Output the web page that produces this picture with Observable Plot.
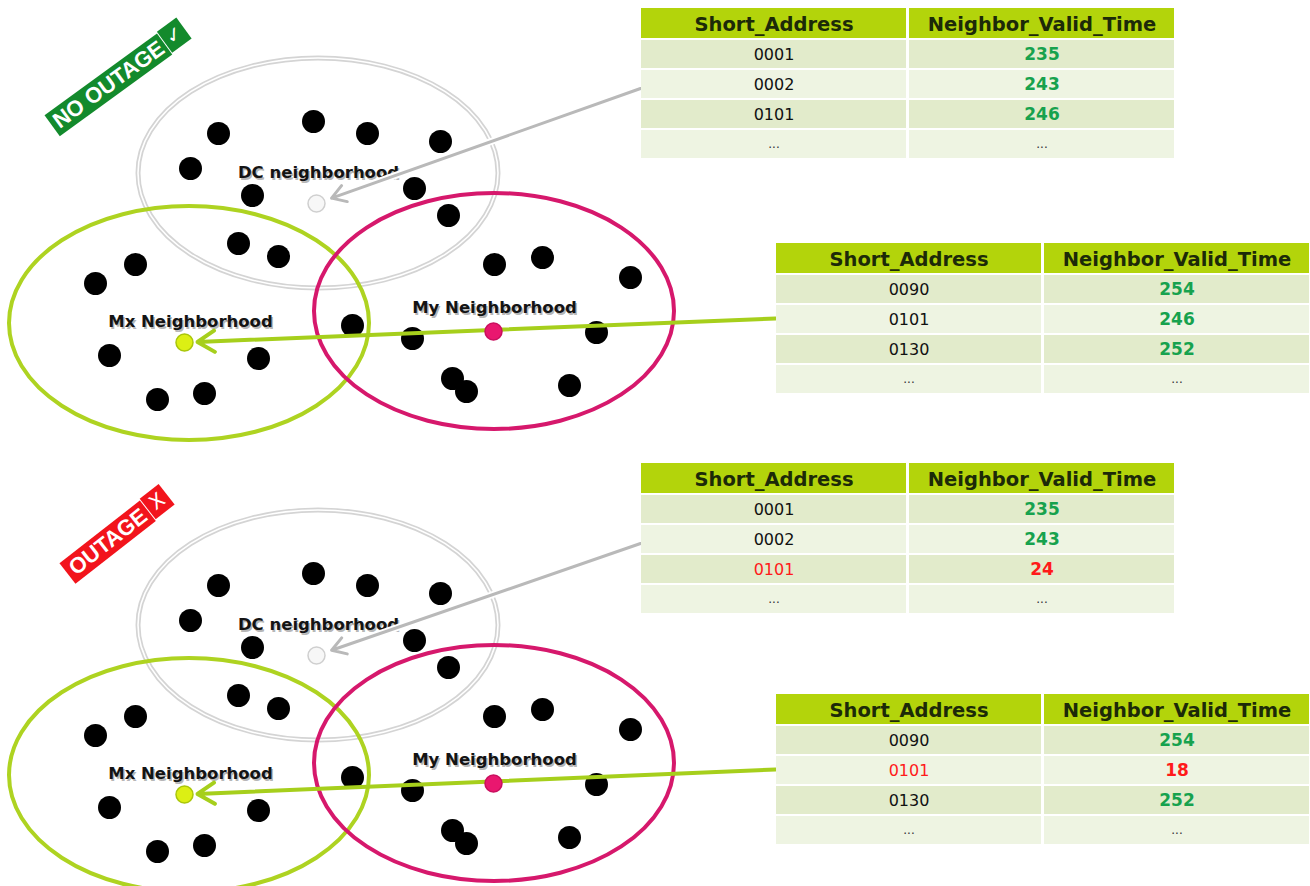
<!DOCTYPE html>
<html><head><meta charset="utf-8">
<script src="https://cdn.jsdelivr.net/npm/d3@7"></script>
<script src="https://cdn.jsdelivr.net/npm/@observablehq/plot@0.6"></script>
<style>
html,body{margin:0;padding:0;background:#fff;}
#chart svg{display:block;}
</style></head><body><div id="chart"></div>
<script>
// ================= DATA =================
const panelNames   = ["NO OUTAGE", "OUTAGE"];
const panelSymbols = ["✓", "X"];

const tableHeaders = ["Short_Address", "Neighbor_Valid_Time"];
const dcAddresses      = ["0001", "0002", "0101", "..."];
const dcTimesNoOutage  = ["235", "243", "246", "..."];
const dcTimesOutage    = ["235", "243", "24", "..."];
const myAddresses      = ["0090", "0101", "0130", "..."];
const myTimesNoOutage  = ["254", "246", "252", "..."];
const myTimesOutage    = ["254", "18", "252", "..."];
const lostAddress = "0101";

// meters (black dots)
const meterX = [218, 313, 367, 440, 190, 252, 414, 448, 238, 278, 135, 95, 494, 542, 630, 352, 412, 596, 109, 258, 157, 204, 452, 466, 569];
const meterY = [133, 121, 133, 141, 168, 195, 188, 215, 243, 256, 264, 283, 264, 257, 277, 325, 338, 332, 355, 358, 399, 393, 378, 391, 385];

// neighbourhoods
const hoodNames  = ["DC neighborhood", "Mx Neighborhood", "My Neighborhood"];
const hoodCX = [318, 189, 494];
const hoodCY = [173, 323, 311];
const hoodRX = [180, 180, 180];
const hoodRY = [115, 117, 118];
const nodeX  = [316, 184, 493];
const nodeY  = [203, 342, 331];
const labelX = [318, 190, 494];
const labelY = [172, 321, 307];

// ================= LAYOUT / STYLE =================
const W = 1310, H = 886;
const panelShift = [0, 452];
const GREEN_TXT = "#17a24e", RED_TXT = "#ff1a1a";
const HEAD_FILL = "#b3d40b", ROW_A = "#e2ebcb", ROW_B = "#eef4e2";
const hoodStroke = ["#d5d5d5", "#aed321", "#d6186c"];
const nodeFill   = ["#f7f7f7", "#dcef14", "#e9176f"];
const nodeStroke = ["#cfcfcf", "#a9c60a", "#c90f5e"];
const badgeFill  = ["#138a2c", "#f2141c"];
const badge = [
  {cx: 118, cy: 77, angle: -36, len: 164},
  {cx: 117, cy: 534, angle: -38, len: 127}
];
const TL = {colW: 265, gap: 3, headH: 30, rowTop: 32, rowPitch: 30, rowH: 28};
const tableDefs = [
  {x: 641, y: [8, 463], addr: dcAddresses, times: [dcTimesNoOutage, dcTimesOutage]},
  {x: 776, y: [243, 694], addr: myAddresses, times: [myTimesNoOutage, myTimesOutage]}
];

// ================= BUILD =================
const meters = [], hoods = [], nodes = [], labels = [];
const cells = [], cellText = [];
const badges = [], badgeText = [];
const arrows = [];
panelNames.forEach((pname, p) => {
  const dy = panelShift[p];
  meterX.forEach((x, i) => meters.push({x, y: meterY[i] + dy}));
  hoodNames.forEach((h, i) => {
    hoods.push({k: i, cx: hoodCX[i], cy: hoodCY[i] + dy, rx: hoodRX[i], ry: hoodRY[i]});
    nodes.push({k: i, x: nodeX[i], y: nodeY[i] + dy});
    labels.push({text: h, x: labelX[i], y: labelY[i] + dy});
  });
  tableDefs.forEach((t, ti) => {
    const top = t.y[p];
    const c1 = [t.x, t.x + TL.colW], c2 = [t.x + TL.colW + TL.gap, t.x + 2 * TL.colW + TL.gap];
    [c1, c2].forEach((c, ci) => {
      cells.push({x1: c[0], x2: c[1], y1: top, y2: top + TL.headH, fill: HEAD_FILL});
      cellText.push({kind: "head", text: tableHeaders[ci], x: (c[0] + c[1]) / 2, y: top + TL.headH / 2 + 1, color: "#1c2a08"});
    });
    t.addr.forEach((a, i) => {
      const y1 = top + TL.rowTop + i * TL.rowPitch, y2 = y1 + TL.rowH;
      const fill = i % 2 ? ROW_B : ROW_A;
      cells.push({x1: c1[0], x2: c1[1], y1, y2, fill});
      cells.push({x1: c2[0], x2: c2[1], y1, y2, fill});
      const lost = p === 1 && a === lostAddress;
      const val = t.times[p][i];
      cellText.push({kind: a === "..." ? "dots" : "addr", text: a, x: (c1[0] + c1[1]) / 2, y: (y1 + y2) / 2, color: lost ? RED_TXT : "#111"});
      cellText.push({kind: val === "..." ? "dots" : "val", text: val, x: (c2[0] + c2[1]) / 2, y: (y1 + y2) / 2, color: lost ? RED_TXT : GREEN_TXT});
    });
    const tgt = ti === 0 ? 0 : 1;
    const from = ti === 0 ? {x: 640, y: top + 80} : {x: 775, y: top + 75};
    arrows.push({k: tgt, x1: from.x, y1: from.y, x2: nodeX[tgt], y2: nodeY[tgt] + dy});
  });
  const b = badge[p];
  const a = b.angle * Math.PI / 180, ux = Math.cos(a), uy = Math.sin(a);
  const h = b.len / 2;
  badges.push({x1: b.cx - h * ux, y1: b.cy - h * uy, x2: b.cx + (h - 25) * ux, y2: b.cy + (h - 25) * uy, fill: badgeFill[p]});
  badges.push({x1: b.cx + (h - 24) * ux + 1.5 * uy, y1: b.cy + (h - 24) * uy - 1.5 * ux, x2: b.cx + h * ux + 1.5 * uy, y2: b.cy + h * uy - 1.5 * ux, fill: badgeFill[p]});
  badgeText.push({text: pname, x: b.cx - 12 * ux, y: b.cy - 12 * uy, angle: b.angle, weight: "bold"});
  badgeText.push({text: panelSymbols[p], x: b.cx + (h - 12) * ux + 1.5 * uy, y: b.cy + (h - 12) * uy - 1.5 * ux, angle: b.angle, weight: "normal"});
});

function ellipseMark(data, stroke, strokeWidth) {
  return Plot.dot(data, {
    x: "cx", y: "cy", r: 1, stroke,
    render(index, scales) {
      const g = d3.create("svg:g");
      for (const i of index) {
        const d = data[i];
        const px = scales.x(d.cx), py = scales.y(d.cy);
        const rx = Math.abs(scales.x(d.cx + d.rx) - px), ry = Math.abs(scales.y(d.cy + d.ry) - py);
        g.append("ellipse").attr("cx", px).attr("cy", py).attr("rx", rx).attr("ry", ry)
          .attr("fill", "none").attr("stroke", stroke).attr("stroke-width", strokeWidth);
      }
      return g.node();
    }
  });
}

const FONT = "DejaVu Sans, Verdana, sans-serif";
const chart = Plot.plot({
  width: W, height: H, margin: 0,
  x: {domain: [0, W], range: [0, W], axis: null},
  y: {domain: [0, H], range: [0, H], axis: null},
  style: {background: "#fff", overflow: "visible"},
  marks: [
    ellipseMark(hoods.filter(d => d.k === 0), "#d4d4d4", 5),
    ellipseMark(hoods.filter(d => d.k === 0), "#ffffff", 1.6),
    ellipseMark(hoods.filter(d => d.k === 1), hoodStroke[1], 4),
    ellipseMark(hoods.filter(d => d.k === 2), hoodStroke[2], 4),
    Plot.dot(meters, {x: "x", y: "y", r: 11.5, fill: "#000"}),
    Plot.text(labels, {x: "x", y: "y", text: "text", dx: 1.5, dy: 1.8, fill: "#000", fillOpacity: 0.3, fontFamily: FONT, fontWeight: "bold", fontSize: 16.5}),
    Plot.text(labels, {x: "x", y: "y", text: "text", fill: "#141414", fontFamily: FONT, fontWeight: "bold", fontSize: 16.5}),
    Plot.arrow(arrows.filter(d => d.k === 0), {x1: "x1", y1: "y1", x2: "x2", y2: "y2", stroke: "#fff", strokeWidth: 7, headLength: 3.4, headAngle: 70, insetEnd: 16}),
    Plot.arrow(arrows.filter(d => d.k === 0), {x1: "x1", y1: "y1", x2: "x2", y2: "y2", stroke: "#b9b9b9", strokeWidth: 3, headLength: 8, headAngle: 64, insetEnd: 16}),
    Plot.arrow(arrows.filter(d => d.k === 1), {x1: "x1", y1: "y1", x2: "x2", y2: "y2", stroke: "#a6cf1c", strokeWidth: 4, headLength: 7.5, headAngle: 64, insetEnd: 13}),
    Plot.dot(nodes, {x: "x", y: "y", r: 8.5, fill: d => nodeFill[d.k], stroke: d => nodeStroke[d.k], strokeWidth: 1.5}),
    Plot.rect(cells, {x1: "x1", x2: "x2", y1: "y1", y2: "y2", fill: "fill"}),
    Plot.text(cellText.filter(d => d.kind === "head"), {x: "x", y: "y", text: "text", fill: "color", fontFamily: FONT, fontWeight: "bold", fontSize: 19.5}),
    Plot.text(cellText.filter(d => d.kind === "addr"), {x: "x", y: "y", text: "text", fill: "color", fontFamily: FONT, fontSize: 16}),
    Plot.text(cellText.filter(d => d.kind === "val"), {x: "x", y: "y", text: "text", fill: "color", fontFamily: FONT, fontWeight: "bold", fontSize: 17}),
    Plot.text(cellText.filter(d => d.kind === "dots"), {x: "x", y: "y", text: "text", fill: "#333333", fontFamily: FONT, fontSize: 12}),
    Plot.link(badges, {x1: "x1", y1: "y1", x2: "x2", y2: "y2", stroke: "fill", strokeWidth: 26, strokeLinecap: "butt"}),
    Plot.text(badgeText.filter(d => d.weight === "bold"), {x: "x", y: "y", text: "text", rotate: d => d.angle, fill: "#fff", fontFamily: "Liberation Sans, Arial, sans-serif", fontWeight: "bold", fontSize: 22}),
    Plot.text(badgeText.filter(d => d.weight !== "bold"), {x: "x", y: "y", text: "text", rotate: d => d.angle, fill: "#fff", fontFamily: "DejaVu Sans, sans-serif", fontSize: 20})
  ]
});
document.getElementById("chart").appendChild(chart);
</script>
</body></html>
